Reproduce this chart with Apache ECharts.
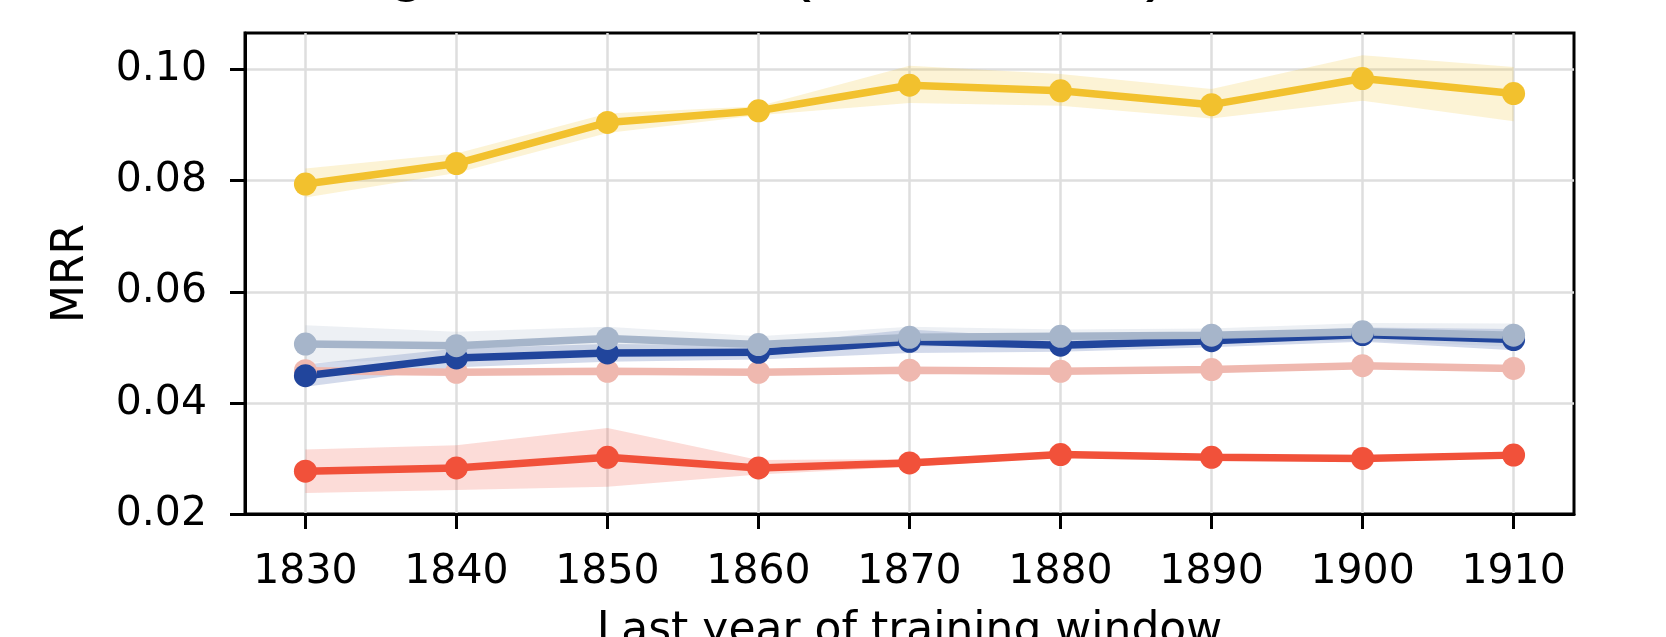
<!DOCTYPE html>
<html>
<head>
<meta charset="utf-8">
<script src="https://cdn.jsdelivr.net/npm/echarts@6/dist/echarts.min.js"></script>
<style>
html,body{margin:0;padding:0;background:#fff;}
#chart{width:1666px;height:637px;}
</style>
</head>
<body>
<div id="chart"></div>
<script>
const titleText = 'Ranking on test set (all 5 seeds)';
const xAxisTitle = 'Last year of training window';
const yAxisTitle = 'MRR';
const years = [1830, 1840, 1850, 1860, 1870, 1880, 1890, 1900, 1910];
const yTicks = [0.02, 0.04, 0.06, 0.08, 0.10];

const redMean  = [0.0277, 0.0283, 0.0302, 0.0283, 0.0292, 0.0307, 0.0302, 0.0300, 0.0306];
const redLo    = [0.0238, 0.0243, 0.0249, 0.0271, 0.0285, 0.0302, 0.0298, 0.0295, 0.0301];
const redHi    = [0.0316, 0.0324, 0.0355, 0.0297, 0.0299, 0.0312, 0.0306, 0.0305, 0.0311];

const pinkMean = [0.0458, 0.0455, 0.0457, 0.0455, 0.0459, 0.0457, 0.0460, 0.0467, 0.0462];
const pinkLo   = [0.0454, 0.0451, 0.0453, 0.0451, 0.0455, 0.0453, 0.0456, 0.0463, 0.0458];
const pinkHi   = [0.0462, 0.0459, 0.0461, 0.0459, 0.0463, 0.0461, 0.0464, 0.0471, 0.0466];

const blueMean = [0.0449, 0.0481, 0.0490, 0.0491, 0.0511, 0.0504, 0.0512, 0.0523, 0.0514];
const blueLo   = [0.0429, 0.0464, 0.0474, 0.0478, 0.0490, 0.0492, 0.0500, 0.0510, 0.0495];
const blueHi   = [0.0469, 0.0498, 0.0506, 0.0504, 0.0532, 0.0516, 0.0524, 0.0536, 0.0533];

const grayMean = [0.0506, 0.0503, 0.0516, 0.0505, 0.0518, 0.0520, 0.0522, 0.0528, 0.0522];
const grayLo   = [0.0472, 0.0480, 0.0495, 0.0490, 0.0500, 0.0508, 0.0510, 0.0512, 0.0501];
const grayHi   = [0.0540, 0.0528, 0.0537, 0.0520, 0.0537, 0.0532, 0.0534, 0.0544, 0.0543];

const yellowMean = [0.0794, 0.0831, 0.0905, 0.0926, 0.0972, 0.0962, 0.0937, 0.0984, 0.0957];
const yellowLo   = [0.0770, 0.0814, 0.0886, 0.0918, 0.0940, 0.0935, 0.0912, 0.0944, 0.0907];
const yellowHi   = [0.0822, 0.0849, 0.0921, 0.0934, 0.1007, 0.0992, 0.0965, 0.1026, 0.1005];

const groups = [
  {name: 'Model A', mean: redMean, lo: redLo, hi: redHi, color: '#F1513A', band: 'rgba(241,81,58,0.2)'},
  {name: 'Model B', mean: pinkMean, lo: pinkLo, hi: pinkHi, color: '#EFB8AF', band: 'rgba(239,184,175,0.25)'},
  {name: 'Model C', mean: blueMean, lo: blueLo, hi: blueHi, color: '#21459C', band: 'rgba(33,69,156,0.2)'},
  {name: 'Model D', mean: grayMean, lo: grayLo, hi: grayHi, color: '#A6B5CA', band: 'rgba(166,181,202,0.2)'},
  {name: 'Model E', mean: yellowMean, lo: yellowLo, hi: yellowHi, color: '#F2C12E', band: 'rgba(242,193,46,0.2)'}
];

const series = [];
groups.forEach((g) => {
  series.push({
    type: 'custom', name: g.name + ' band', silent: true, z: 1,
    data: years.map((x, i) => [x, g.lo[i], g.hi[i]]),
    encode: {x: 0, y: [1, 2]},
    renderItem: function (params, api) {
      if (params.dataIndexInside !== 0) return null;
      const n = params.dataInsideLength;
      const upper = [], lower = [];
      for (let j = 0; j < n; j++) {
        upper.push(api.coord([api.value(0, j), api.value(2, j)]));
        lower.push(api.coord([api.value(0, j), api.value(1, j)]));
      }
      const pts = upper.concat(lower.reverse());
      return {
        type: 'polygon',
        shape: {points: pts},
        style: {fill: g.band, stroke: null}
      };
    }
  });
});
groups.forEach((g) => {
  series.push({
    type: 'line', name: g.name,
    data: years.map((x, i) => [x, g.mean[i]]),
    symbol: 'circle', symbolSize: 23,
    lineStyle: {color: g.color, width: 7.5},
    itemStyle: {color: g.color},
    z: 3
  });
});

const font = 'DejaVu Sans';
const chart = echarts.init(document.getElementById('chart'));
chart.setOption({
  animation: false,
  backgroundColor: '#ffffff',
  grid: {left: 245, right: 92, top: 33, bottom: 123, show: true, borderColor: '#000', borderWidth: 3,
         backgroundColor: 'transparent', containLabel: false, outerBoundsMode: 'none'},
  graphic: [{
    type: 'text', left: 169, top: -67,
    style: {text: titleText, font: '70px "Liberation Sans"', fill: '#000'}
  }],
  xAxis: {
    type: 'value', min: 1826, max: 1914,
    name: xAxisTitle, nameLocation: 'middle', nameGap: 96,
    nameTextStyle: {fontFamily: font, fontSize: 44, color: '#000'},
    axisLine: {show: true, lineStyle: {color: '#000', width: 3}},
    axisTick: {show: true, inside: false, length: 15, lineStyle: {color: '#000', width: 3}, customValues: years},
    axisLabel: {customValues: years, fontFamily: font, fontSize: 41, color: '#000', margin: 38, formatter: v => String(v)},
    splitLine: {show: true, lineStyle: {color: '#dedede', width: 2.5}}
  },
  yAxis: {
    type: 'value', min: 0.02, max: 0.1066,
    name: yAxisTitle, nameLocation: 'middle', nameGap: 151, nameRotate: 90,
    nameTextStyle: {fontFamily: font, fontSize: 44, color: '#000'},
    axisLine: {show: true, lineStyle: {color: '#000', width: 3}},
    axisTick: {show: true, inside: false, length: 15, lineStyle: {color: '#000', width: 3}, customValues: yTicks},
    axisLabel: {customValues: yTicks, fontFamily: font, fontSize: 41, color: '#000', margin: 38, formatter: v => v.toFixed(2)},
    splitLine: {show: true, lineStyle: {color: '#dedede', width: 2.5}}
  },
  series: series
});
</script>
</body>
</html>
